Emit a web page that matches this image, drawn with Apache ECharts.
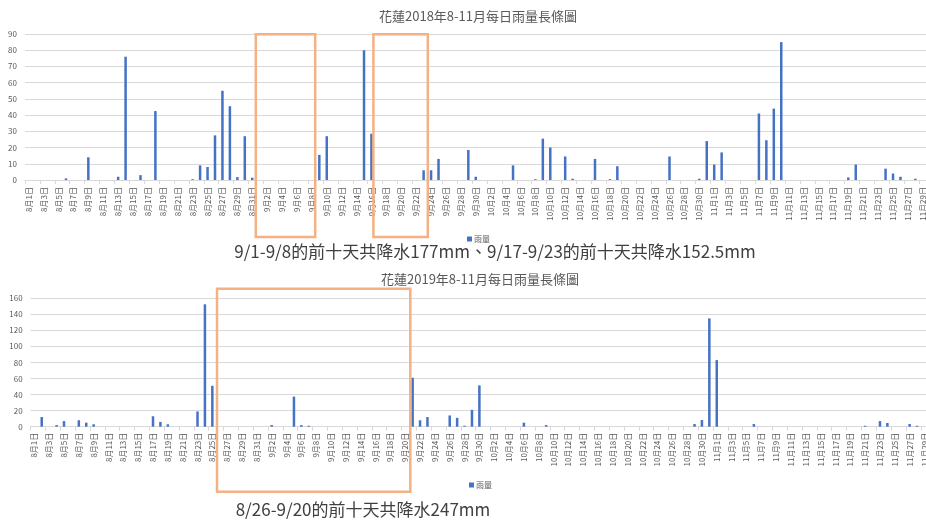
<!DOCTYPE html>
<html>
<head>
<meta charset="utf-8">
<script src="https://cdn.jsdelivr.net/npm/echarts@6/dist/echarts.min.js"></script>
<style>
html,body{margin:0;padding:0;background:#fff;}
#container{width:926px;height:522px;}
</style>
</head>
<body>
<div id="container"></div>
<script>
// 月份與天數 (x 軸分類)
var months = [8, 9, 10, 11];
var monthDays = [31, 30, 31, 30];

// 2018 每日雨量 (mm)
var aug2018 = [0,0,0,0,0,1,0,0,14,0,0,0,2,76,0,3,0,42.5,0,0,0,0,0.5,9,8,27.5,55,45.5,1.8,27,1.4];
var sep2018 = [0,0,0,0,0,0,0,0,15.5,27,0,0,0,0,80,28.5,0,0,0,0,0,0,6,6,13,0,0,0,18.5,2];
var oct2018 = [0,0,0,0,9,0,0,0.5,25.5,20,0,14.5,0.8,0,0,13,0,0.5,8.5,0,0,0,0,0,0,14.5,0,0,0,0.8,24];
var nov2018 = [9.5,17,0,0,0,0,41,24.5,44,85,0,0,0,0,0,0,0,0,1.6,9.5,0,0,0,7,4,2,0,0.8,0,0];

// 2019 每日雨量 (mm)
var aug2019 = [0,12,0,2,7,0,8,5,3,0,0,0,0,0,0,0,13,6,3,0,0,0,19,152.5,51,0,0,0,0,0,0];
var sep2019 = [0,2,0,0,37.5,2,1.2,0,0,0,0,0,0,0,0,0,0,0,0,0,61,8,12,0,0,14,11,1.2,21,51.5];
var oct2019 = [0,0,0,0,0,5,0,0,2,0,0,0,0,0,0,0,0,0,0,0,0,0,0,0,0,0,0,0,3.3,8.3,135];
var nov2019 = [83,0,0,0,0,3.3,0,0,0,0,0,0,0,0,0,0,0,0,0,0,1.2,0,7,4.6,0,0,3.3,1.2,0,0];

var title2018 = '花蓮2018年8-11月每日雨量長條圖';
var title2019 = '花蓮2019年8-11月每日雨量長條圖';
var note2018 = '9/1-9/8的前十天共降水177mm、9/17-9/23的前十天共降水152.5mm';
var note2019 = '8/26-9/20的前十天共降水247mm';

var days = [];
for (var m = 0; m < months.length; m++) {
	for (var d = 1; d <= monthDays[m]; d++) {
		days.push(months[m] + '月' + d + '日');
	}
}
var rain2018 = aug2018.concat(sep2018, oct2018, nov2018);
var rain2019 = aug2019.concat(sep2019, oct2019, nov2019);

var FONT = '"Noto Sans CJK TC", "Noto Sans", sans-serif';
var gray = '#595959';
var orange = '#F4B183';

function xAxisOf(idx, margin) {
	return {
		type: 'category',
		gridIndex: idx,
		data: days,
		axisLine: {lineStyle: {color: '#d9d9d9'}},
		axisTick: {show: true, interval: 1, length: 4, lineStyle: {color: '#d9d9d9'}},
		axisLabel: {interval: 1, rotate: 90, fontSize: 8, color: gray, margin: margin, fontFamily: FONT}
	};
}
function yAxisOf(idx, max, interval) {
	return {
		type: 'value',
		gridIndex: idx,
		min: 0, max: max, interval: interval,
		axisLine: {show: false},
		axisTick: {show: false},
		axisLabel: {fontSize: 8, color: gray, margin: 8, fontFamily: FONT},
		splitLine: {lineStyle: {color: '#d9d9d9'}}
	};
}

var myChart = echarts.init(document.getElementById('container'));
var option = {
	backgroundColor: '#fff',
	animation: false,
	title: [
		{text: title2018, left: 473, top: 5, textAlign: 'center',
		 textStyle: {fontSize: 13, fontWeight: 'normal', color: gray, fontFamily: FONT}},
		{text: title2019, left: 475, top: 268, textAlign: 'center',
		 textStyle: {fontSize: 13, fontWeight: 'normal', color: gray, fontFamily: FONT}}
	],
	legend: [
		{data: ['雨量'], left: 462, top: 230, itemWidth: 5, itemHeight: 5, itemGap: 2,
		 icon: 'rect', textStyle: {fontSize: 8, color: gray, fontFamily: FONT, padding: [0, 0, 0, -3]}},
		{data: ['雨量'], left: 464, top: 476, itemWidth: 5, itemHeight: 5, itemGap: 2,
		 icon: 'rect', textStyle: {fontSize: 8, color: gray, fontFamily: FONT, padding: [0, 0, 0, -3]}}
	],
	grid: [
		{left: 25, top: 34, width: 909, height: 146, outerBoundsMode: 'none'},
		{left: 30.6, top: 298.3, width: 905, height: 128.4, outerBoundsMode: 'none'}
	],
	xAxis: [xAxisOf(0, 7), xAxisOf(1, 6)],
	yAxis: [yAxisOf(0, 90, 10), yAxisOf(1, 160, 20)],
	series: [
		{name: '雨量', type: 'bar', xAxisIndex: 0, yAxisIndex: 0, data: rain2018,
		 barWidth: 2.5, itemStyle: {color: '#4472C4'}},
		{name: '雨量', type: 'bar', xAxisIndex: 1, yAxisIndex: 1, data: rain2019,
		 barWidth: 2.5, itemStyle: {color: '#4472C4'}}
	],
	graphic: [
		// 標示框
		{type: 'rect', z: 100, shape: {x: 255.8, y: 34.2, width: 59.4, height: 202.8},
		 style: {fill: 'none', stroke: orange, lineWidth: 2.5}},
		{type: 'rect', z: 100, shape: {x: 373.4, y: 34.2, width: 54.4, height: 202.8},
		 style: {fill: 'none', stroke: orange, lineWidth: 2.5}},
		{type: 'rect', z: 100, shape: {x: 217, y: 288.7, width: 193.3, height: 203},
		 style: {fill: 'none', stroke: orange, lineWidth: 2.5}},
		{type: 'text', z: 100, x: 495, y: 252,
		 style: {text: note2018, font: '17px ' + FONT, fill: '#404040', textAlign: 'center', textVerticalAlign: 'middle'}},
		{type: 'text', z: 100, x: 363, y: 510,
		 style: {text: note2019, font: '17px ' + FONT, fill: '#404040', textAlign: 'center', textVerticalAlign: 'middle'}}
	]
};
myChart.setOption(option);
</script>
</body>
</html>
